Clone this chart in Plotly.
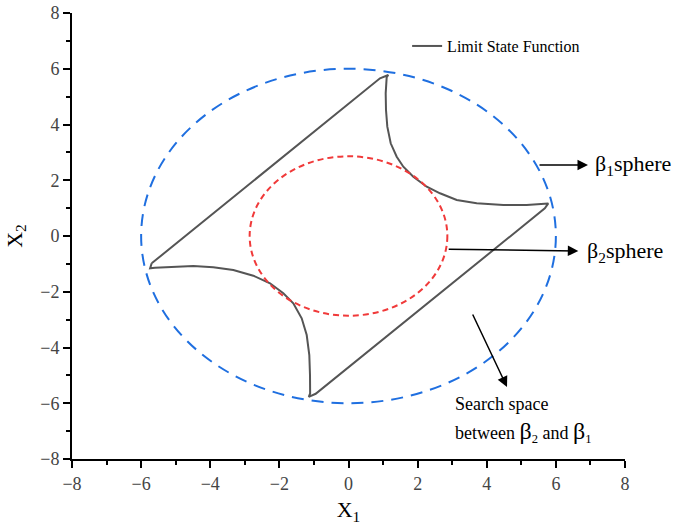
import plotly.graph_objects as go

# Limit state function boundary (closed loop)
lsf_x = [-5.695, 0.911, 1.152, 1.105, 1.076, 1.085, 1.123, 1.221, 1.395, 1.586, 1.875,
         2.263, 2.647, 3.131, 3.709, 4.479, 5.156, 5.78, 5.68,
         -0.95, -1.15, -1.11, -1.114, -1.134, -1.209, -1.354, -1.597, -1.886, -2.271,
         -2.754, -3.333, -3.912, -4.490, -5.069, -5.600, -5.74, -5.695]
lsf_y = [-0.980, 5.657, 5.776, 5.70, 5.119, 4.520, 3.921, 3.326, 2.845, 2.486, 2.127,
         1.769, 1.532, 1.291, 1.173, 1.112, 1.112, 1.17, 0.99,
         -5.66, -5.77, -5.65, -4.987, -4.269, -3.552, -2.952, -2.414, -2.056, -1.697,
         -1.424, -1.220, -1.123, -1.076, -1.101, -1.137, -1.16, -0.980]

beta1_radius = 6.0
beta2_radius = 2.86

tick_vals = [-8, -6, -4, -2, 0, 2, 4, 6, 8]

FONT = "Liberation Serif"

fig = go.Figure()
fig.add_trace(go.Scatter(x=lsf_x, y=lsf_y, mode="lines", name="Limit State Function",
                         line=dict(color="#555555", width=2)))

fig.add_shape(type="circle", xref="x", yref="y",
              x0=-beta1_radius, x1=beta1_radius, y0=-beta1_radius, y1=beta1_radius,
              line=dict(color="#1f6fe0", width=2, dash="12px,8px"))
fig.add_shape(type="circle", xref="x", yref="y",
              x0=-beta2_radius, x1=beta2_radius, y0=-beta2_radius, y1=beta2_radius,
              line=dict(color="#f03a3a", width=2, dash="6px,4px"))

arrow_style = dict(showarrow=True, text="", arrowhead=2, arrowsize=1.4, arrowwidth=1.5,
                   arrowcolor="black", axref="x", ayref="y", xref="x", yref="y")
fig.add_annotation(x=6.93, y=2.547, ax=5.483, ay=2.547, **arrow_style)
fig.add_annotation(x=6.649, y=-0.538, ax=2.856, ay=-0.477, **arrow_style)
fig.add_annotation(x=4.586, y=-5.417, ax=3.573, ay=-2.762, **arrow_style)

text_style = dict(showarrow=False, xref="x", yref="y", xanchor="left", yanchor="middle",
                  font=dict(family=FONT, size=22, color="black"))
fig.add_annotation(x=7.074, y=2.547, text="β<sub>1</sub>sphere", **text_style)
fig.add_annotation(x=6.843, y=-0.574, text="β<sub>2</sub>sphere", **text_style)
fig.add_annotation(x=3.024, y=-6.027, text="Search space", showarrow=False, xref="x", yref="y",
                   xanchor="left", yanchor="middle", font=dict(family=FONT, size=18, color="black"))
fig.add_annotation(x=3.024, y=-7.03,
                   text="between <span style='font-size:24px'>β</span><sub>2</sub> and <span style='font-size:24px'>β</span><sub>1</sub>",
                   showarrow=False, xref="x", yref="y",
                   xanchor="left", yanchor="middle", font=dict(family=FONT, size=18, color="black"))

axis_common = dict(range=[-8, 8], tickvals=tick_vals, ticks="outside", ticklen=7, tickwidth=2,
                   tickcolor="black", showline=True, linecolor="black", linewidth=2,
                   showgrid=False, zeroline=False, automargin=False, ticklabeloverflow="allow",
                   tickfont=dict(family=FONT, size=18, color="#444444"),
                   minor=dict(ticks="outside", ticklen=4, tickwidth=2, dtick=1, tickcolor="black"))

fig.update_layout(
    width=678, height=525,
    margin=dict(l=72, r=53, t=13, b=66, autoexpand=False),
    font=dict(family=FONT, size=17, color="black"),
    plot_bgcolor="white", paper_bgcolor="white",
    xaxis=dict(**axis_common, title=dict(text="X<sub>1</sub>", font=dict(family=FONT, size=22, color="black"), standoff=10)),
    yaxis=dict(**axis_common, title=dict(text="X<sub>2</sub>", font=dict(family=FONT, size=22, color="black"), standoff=12)),
    showlegend=True,
    legend=dict(x=0.606, y=0.964, xanchor="left", yanchor="top", bgcolor="rgba(0,0,0,0)",
                font=dict(family=FONT, size=16, color="black")),
)

fig.write_html("out.html", config={"displayModeBar": False},
               post_script="document.body.style.margin='0px';document.body.style.overflow='hidden';")
